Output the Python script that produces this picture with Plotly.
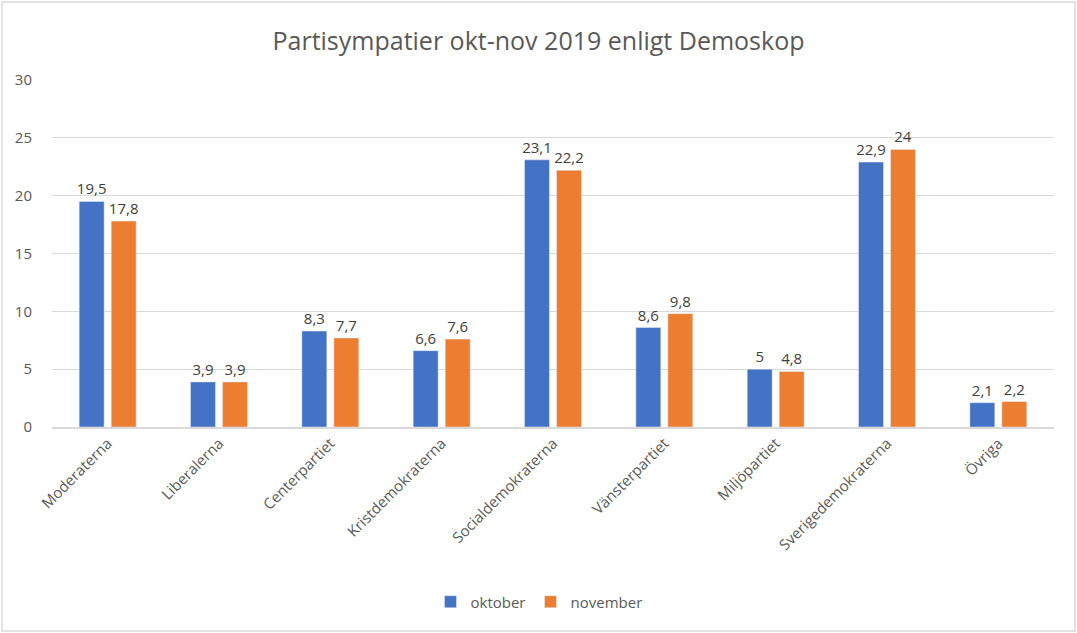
import plotly.graph_objects as go

categories = ["Moderaterna", "Liberalerna", "Centerpartiet", "Kristdemokraterna",
              "Socialdemokraterna", "Vänsterpartiet", "Miljöpartiet",
              "Sverigedemokraterna", "Övriga"]
oktober = [19.5, 3.9, 8.3, 6.6, 23.1, 8.6, 5.0, 22.9, 2.1]
november = [17.8, 3.9, 7.7, 7.6, 22.2, 9.8, 4.8, 24.0, 2.2]

W, H = 1077, 633
ml, mr, mt, mb = 52, 23, 80, 206
font = "Open Sans, Liberation Sans, sans-serif"

fig = go.Figure()
for name, vals, col in [("oktober", oktober, "#4472C4"), ("november", november, "#ED7D31")]:
    fig.add_bar(x=categories, y=vals, name=name, marker_color=col,
                texttemplate="%{y:,.3~g}", textposition="outside",
                constraintext="none",
                textfont=dict(size=15, color="#404040"), cliponaxis=False)

pw = W - ml - mr
ph = H - mt - mb
fig.add_shape(type="rect", xref="paper", yref="paper",
              x0=(2 - ml) / pw, x1=(W - 2 - ml) / pw,
              y0=-(H - 2 - mt - ph) / ph, y1=1 + (mt - 2) / ph,
              line=dict(color="#d9d9d9", width=1.5), layer="below")

fig.update_layout(
    width=W, height=H,
    margin=dict(l=ml, r=mr, t=mt, b=mb),
    paper_bgcolor="white", plot_bgcolor="white",
    separators=", ",
    font=dict(family=font, color="#595959"),
    title=dict(text="Partisympatier okt-nov 2019 enligt Demoskop",
               x=0.5, xanchor="center", y=1 - 41 / H, yanchor="middle",
               font=dict(size=25, color="#595959")),
    barmode="group", bargap=0.425, bargroupgap=0.22,
    showlegend=True,
    legend=dict(orientation="h", x=(539 - ml) / pw, xanchor="center",
                y=-(602 - mt - ph) / ph, yanchor="middle",
                font=dict(size=15, color="#595959"), itemwidth=30),
    xaxis=dict(tickangle=-45, tickfont=dict(size=15, color="#595959"),
               showline=True, linecolor="#d9d9d9", linewidth=1.5, ticks=""),
    yaxis=dict(range=[0, 30], dtick=5, gridcolor="#d9d9d9", gridwidth=1,
               tickfont=dict(size=15, color="#595959"), zeroline=False,
               ticks="outside", ticklen=16, tickcolor="white"),
)

fig.write_html("out.html", config={"displayModeBar": False},
               post_script="document.body.style.margin='0';")
